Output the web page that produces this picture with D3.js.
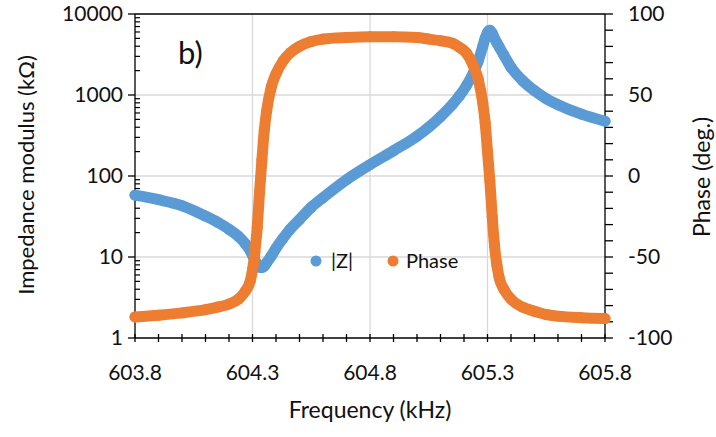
<!DOCTYPE html>
<html>
<head>
<meta charset="utf-8">
<script src="https://cdn.jsdelivr.net/npm/d3@7"></script>
<style>
  body { margin: 0; background: #fff; }
  text { font-family: Lato, "Liberation Sans", sans-serif; fill: #111; }
</style>
</head>
<body>
<svg id="chart" width="716" height="437"></svg>
<script>
// frequency (kHz)
var freq = [603.80, 603.90, 604.00, 604.10, 604.15, 604.20, 604.24, 604.27, 604.29, 604.30,
            604.31, 604.32, 604.33, 604.34, 604.35, 604.36, 604.38, 604.40, 604.43, 604.46,
            604.50, 604.55, 604.60, 604.70, 604.80, 604.90, 605.00, 605.05, 605.10, 605.15,
            605.18, 605.21, 605.24, 605.26, 605.28, 605.29, 605.30, 605.31, 605.32, 605.33,
            605.34, 605.35, 605.37, 605.40, 605.45, 605.50, 605.55, 605.60, 605.70, 605.80];

// |Z| in kOhm
var modulus = [58, 51, 43, 32, 27, 22, 18, 14.5, 12, 10.5,
               9.2, 8.0, 7.5, 7.4, 7.7, 8.5, 10.3, 12.8, 17, 22,
               29, 41, 54, 90, 138, 205, 310, 400, 540, 760,
               970, 1300, 1880, 2600, 4000, 5000, 5900, 6300, 5800, 5000,
               4400, 3900, 3100, 2200, 1500, 1130, 900, 760, 580, 475];

// phase in degrees
var phase = [-87, -86, -84.5, -82.5, -81, -79, -76, -71, -65, -58,
             -47, -32, -10, 10, 28, 40, 55, 63, 71, 76,
             80, 83, 84.5, 85.5, 86, 86, 85.5, 84.5, 83.5, 82,
             79.5, 76, 68, 60, 45, 33, 15, -3, -25, -43,
             -55, -63, -70, -76, -81, -83.5, -85.5, -86.5, -87.5, -88];

var xMajor = [603.8, 604.3, 604.8, 605.3, 605.8];
var yLeftTicks = [1, 10, 100, 1000, 10000];
var yRightTicks = [-100, -50, 0, 50, 100];

var margin = {left: 135, right: 111, top: 14, bottom: 99};
var W = 716, H = 437;
var pw = W - margin.left - margin.right, ph = H - margin.top - margin.bottom;

var svg = d3.select("#chart");
var g = svg.append("g").attr("transform", "translate(" + margin.left + "," + margin.top + ")");

var x = d3.scaleLinear().domain([603.8, 605.8]).range([0, pw]);
var yL = d3.scaleLog().domain([1, 10000]).range([ph, 0]);
var yR = d3.scaleLinear().domain([-100, 100]).range([ph, 0]);

var blue = "#5b9bd5", orange = "#ed7d31", grid = "#d9d9d9";

// gridlines
g.selectAll(".vgrid").data(xMajor.slice(1, -1)).enter().append("line")
  .attr("x1", d => x(d)).attr("x2", d => x(d)).attr("y1", 0).attr("y2", ph)
  .attr("stroke", grid).attr("stroke-width", 1.3);
g.selectAll(".hgrid").data(yLeftTicks.slice(1, -1)).enter().append("line")
  .attr("x1", 0).attr("x2", pw).attr("y1", d => yL(d)).attr("y2", d => yL(d))
  .attr("stroke", grid).attr("stroke-width", 1.3);

// top border
g.append("line").attr("x1", 0).attr("x2", pw).attr("y1", 0).attr("y2", 0)
  .attr("stroke", "#000").attr("stroke-width", 1.3);

// bottom axis: ticks cross the line every 0.1
var xAxis = g.append("g").attr("transform", "translate(0," + ph + ")");
xAxis.append("line").attr("x1", 0).attr("x2", pw).attr("stroke", "#000").attr("stroke-width", 1.3);
xAxis.selectAll(".xt").data(d3.range(0, 21)).enter().append("line")
  .attr("x1", d => x(603.8 + d / 10)).attr("x2", d => x(603.8 + d / 10))
  .attr("y1", -4).attr("y2", 4).attr("stroke", "#000").attr("stroke-width", 1.3);
xAxis.selectAll(".xl").data(xMajor).enter().append("text")
  .attr("x", d => x(d)).attr("y", 42).attr("text-anchor", "middle")
  .style("font-size", "21px").text(d => d.toFixed(1));

// left log axis
var lAxis = g.append("g");
lAxis.append("line").attr("y1", 0).attr("y2", ph).attr("stroke", "#000").attr("stroke-width", 1.3);
lAxis.selectAll(".lt").data(yLeftTicks).enter().append("line")
  .attr("x1", -7).attr("x2", 0).attr("y1", d => yL(d)).attr("y2", d => yL(d))
  .attr("stroke", "#000").attr("stroke-width", 1.3);
var minors = [];
yLeftTicks.slice(0, -1).forEach(function(dec) {
  d3.range(2, 10).forEach(function(m) { minors.push(dec * m); });
});
lAxis.selectAll(".lm").data(minors).enter().append("line")
  .attr("x1", 0).attr("x2", 5).attr("y1", d => yL(d)).attr("y2", d => yL(d))
  .attr("stroke", "#000").attr("stroke-width", 1.2);
lAxis.selectAll(".ll").data(yLeftTicks).enter().append("text")
  .attr("x", -12).attr("y", d => yL(d)).attr("dy", "0.35em").attr("text-anchor", "end")
  .style("font-size", "21px").text(d => d);

// right phase axis
var rAxis = g.append("g").attr("transform", "translate(" + pw + ",0)");
rAxis.append("line").attr("y1", 0).attr("y2", ph).attr("stroke", "#000").attr("stroke-width", 1.3);
rAxis.selectAll(".rt").data(d3.range(-100, 101, 10)).enter().append("line")
  .attr("x1", 0).attr("x2", 8).attr("y1", d => yR(d)).attr("y2", d => yR(d))
  .attr("stroke", "#000").attr("stroke-width", 1.3);
rAxis.selectAll(".rl").data(yRightTicks).enter().append("text")
  .attr("x", 23).attr("y", d => yR(d)).attr("dy", "0.35em").attr("text-anchor", "start")
  .style("font-size", "21px").text(d => d);

// series: thick band of dense markers
function series(vals, yScale, col) {
  var pts = freq.map(function(f, i) { return [x(f), yScale(vals[i])]; });
  g.append("path").datum(pts)
    .attr("d", d3.line().curve(d3.curveMonotoneX))
    .attr("fill", "none").attr("stroke", col).attr("stroke-width", 11)
    .attr("stroke-linecap", "round").attr("stroke-linejoin", "round");
  g.selectAll(null).data(pts).enter().append("circle")
    .attr("cx", d => d[0]).attr("cy", d => d[1]).attr("r", 5.5).attr("fill", col);
}
series(modulus, yL, blue);
series(phase, yR, orange);

// "b)" tag
g.append("text").attr("x", 43).attr("y", 50).style("font-size", "31px").text("b)");

// legend
var leg = g.append("g").attr("transform", "translate(0," + (261 - margin.top) + ")");
leg.append("circle").attr("cx", 316 - margin.left).attr("cy", 0).attr("r", 5.5).attr("fill", blue);
leg.append("text").attr("x", 331 - margin.left).attr("dy", "0.35em").style("font-size", "20px").text("|Z|");
leg.append("circle").attr("cx", 393 - margin.left).attr("cy", 0).attr("r", 5.5).attr("fill", orange);
leg.append("text").attr("x", 406 - margin.left).attr("dy", "0.35em").style("font-size", "20px").text("Phase");

// axis titles
svg.append("text").attr("transform", "translate(26,175) rotate(-90)")
  .attr("text-anchor", "middle").attr("dy", "0.35em").style("font-size", "22px")
  .text("Impedance modulus (kΩ)");
svg.append("text").attr("transform", "translate(702,177) rotate(-90)")
  .attr("text-anchor", "middle").attr("dy", "0.35em").style("font-size", "23px")
  .text("Phase (deg.)");
svg.append("text").attr("x", 370).attr("y", 410).attr("dy", "0.35em")
  .attr("text-anchor", "middle").style("font-size", "23px").text("Frequency (kHz)");
</script>
</body>
</html>
